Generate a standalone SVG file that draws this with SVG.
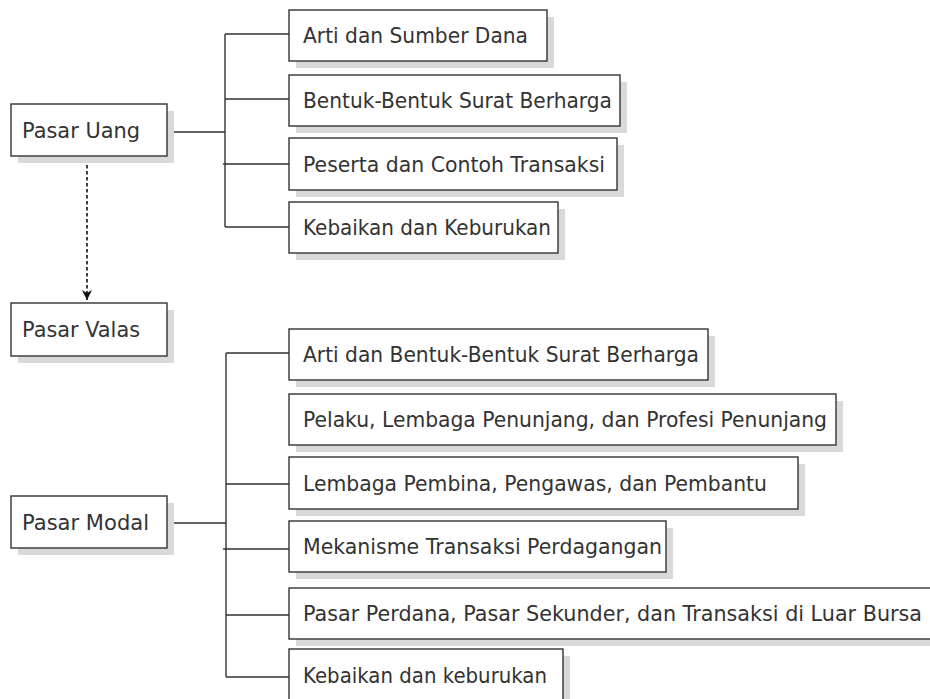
<svg xmlns="http://www.w3.org/2000/svg" width="930" height="699" viewBox="0 0 930 699">
<defs>
<style>
.sh{fill:#d9d9d9;stroke:none}
.bx{fill:#fff;stroke:#333;stroke-width:1.4}
.t{font-family:"DejaVu Sans","Liberation Sans",sans-serif;font-size:20.5px;fill:#333}
.ln{stroke:#333;stroke-width:1.4;fill:none}
.dash{stroke:#111;stroke-width:1.6;fill:none;stroke-dasharray:3.5 2.5}
</style>
<marker id="ah" markerWidth="12" markerHeight="12" refX="10" refY="5" orient="auto" markerUnits="userSpaceOnUse">
<path d="M0,0 L10,5 L0,10 L3,5 Z" fill="#111"/>
</marker>
</defs>
<rect width="930" height="699" fill="#fff"/>
<g id="connectors">
<path class="ln" d="M170,132 H225 M225,34 V227 M225,34 H289 M225,99 H289 M223,164 H289 M225,227 H289"/>
<path class="ln" d="M170,523 H226 M226,353 V677 M226,353 H289 M226,484 H289 M223,549 H289 M226,615 H289 M226,677 H289"/>
<path class="dash" d="M87,159 V300" marker-end="url(#ah)"/>
</g>
<g id="pasar-uang"><rect class="sh" x="18" y="111" width="156" height="52"/><rect class="bx" x="11" y="104" width="156" height="52"/><text class="t" x="22" y="138" textLength="118" lengthAdjust="spacingAndGlyphs">Pasar Uang</text></g>
<g id="pasar-valas"><rect class="sh" x="18" y="310" width="156" height="53"/><rect class="bx" x="11" y="303" width="156" height="53"/><text class="t" x="22" y="337" textLength="118" lengthAdjust="spacingAndGlyphs">Pasar Valas</text></g>
<g id="pasar-modal"><rect class="sh" x="18" y="503" width="156" height="52"/><rect class="bx" x="11" y="496" width="156" height="52"/><text class="t" x="22" y="530" textLength="127" lengthAdjust="spacingAndGlyphs">Pasar Modal</text></g>

<g id="u1"><rect class="sh" x="296" y="17" width="258" height="51"/><rect class="bx" x="289" y="10" width="258" height="51"/><text class="t" x="303" y="43" textLength="225" lengthAdjust="spacingAndGlyphs">Arti dan Sumber Dana</text></g>
<g id="u2"><rect class="sh" x="296" y="82" width="331" height="51"/><rect class="bx" x="289" y="75" width="331" height="51"/><text class="t" x="303" y="108" textLength="309" lengthAdjust="spacingAndGlyphs">Bentuk-Bentuk Surat Berharga</text></g>
<g id="u3"><rect class="sh" x="296" y="145" width="328" height="52"/><rect class="bx" x="289" y="138" width="328" height="52"/><text class="t" x="303" y="172" textLength="302" lengthAdjust="spacingAndGlyphs">Peserta dan Contoh Transaksi</text></g>
<g id="u4"><rect class="sh" x="296" y="209" width="269" height="51"/><rect class="bx" x="289" y="202" width="269" height="51"/><text class="t" x="303" y="235" textLength="248" lengthAdjust="spacingAndGlyphs">Kebaikan dan Keburukan</text></g>

<g id="m1"><rect class="sh" x="296" y="336" width="419" height="51"/><rect class="bx" x="289" y="329" width="419" height="51"/><text class="t" x="303" y="362" textLength="396" lengthAdjust="spacingAndGlyphs">Arti dan Bentuk-Bentuk Surat Berharga</text></g>
<g id="m2"><rect class="sh" x="296" y="401" width="547" height="51"/><rect class="bx" x="289" y="394" width="547" height="51"/><text class="t" x="303" y="427" textLength="524" lengthAdjust="spacingAndGlyphs">Pelaku, Lembaga Penunjang, dan Profesi Penunjang</text></g>
<g id="m3"><rect class="sh" x="296" y="464" width="509" height="52"/><rect class="bx" x="289" y="457" width="509" height="52"/><text class="t" x="303" y="491" textLength="464" lengthAdjust="spacingAndGlyphs">Lembaga Pembina, Pengawas, dan Pembantu</text></g>
<g id="m4"><rect class="sh" x="296" y="528" width="377" height="51"/><rect class="bx" x="289" y="521" width="377" height="51"/><text class="t" x="303" y="554" textLength="359" lengthAdjust="spacingAndGlyphs">Mekanisme Transaksi Perdagangan</text></g>
<g id="m5"><rect class="sh" x="296" y="595" width="650" height="51"/><rect class="bx" x="289" y="588" width="650" height="51"/><text class="t" x="303" y="621" textLength="619" lengthAdjust="spacingAndGlyphs">Pasar Perdana, Pasar Sekunder, dan Transaksi di Luar Bursa</text></g>
<g id="m6"><rect class="sh" x="296" y="656" width="274" height="60"/><rect class="bx" x="289" y="649" width="274" height="60"/><text class="t" x="303" y="683" textLength="244" lengthAdjust="spacingAndGlyphs">Kebaikan dan keburukan</text></g>
</svg>
